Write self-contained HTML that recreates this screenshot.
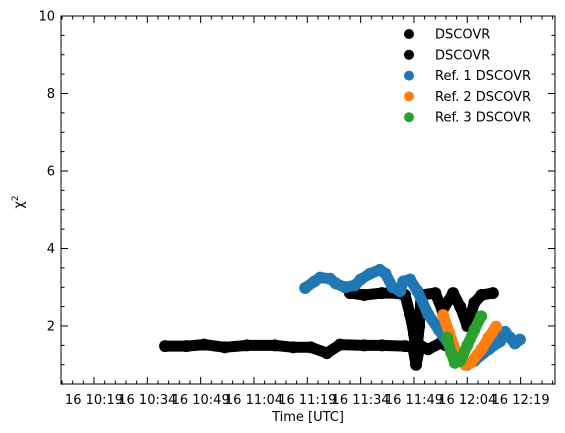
<!DOCTYPE html>
<html><head><meta charset="utf-8"><style>
body{margin:0;background:#fff}
svg{display:block;font-family:"DejaVu Sans","Liberation Sans",sans-serif}
</style></head><body>
<svg id="chart" width="565" height="433" viewBox="0 0 565 433"></svg>
<script>
// minutes since 10:00 UTC, chi-square
const black1T=[39,45,50,55.8,62,69.9,75,80,84.5,88.2,95,100,106.5,108.7,109.6,110.7,113,116.3,118];
const black1V=[1.48,1.48,1.52,1.45,1.5,1.5,1.45,1.45,1.3,1.52,1.5,1.5,1.48,1.45,1.0,1.5,1.4,1.55,1.5];
const black2T=[91,95,100,104,106.5,107.9,109,109.6,110.5,111,115,117,120,122,124,126,128,131.2];
const black2V=[2.85,2.8,2.85,2.85,2.8,2.3,1.8,1.2,2.0,2.8,2.85,2.4,2.85,2.5,2.0,2.6,2.8,2.85];
const blueT=[78.4,81,82.6,85.4,87,89.6,92.4,94,96.6,99.4,101,103,105.1,106,107.9,110,113,116,119,122,123.9,126,130,133.2,134.6,136,137.4,138.8];
const blueV=[2.98,3.15,3.25,3.22,3.1,3.0,3.05,3.2,3.35,3.45,3.35,3.0,2.9,3.15,3.2,2.9,2.3,1.9,1.5,1.2,1.0,1.1,1.4,1.6,1.85,1.7,1.55,1.65];
const orangeT=[117.2,119,121,123.4,125,128,130,132.1];
const orangeV=[2.28,1.8,1.3,1.0,1.05,1.4,1.7,1.98];
const greenT=[118.3,119.5,120.5,122,124,126,127.9];
const greenV=[1.7,1.3,1.05,1.1,1.5,1.9,2.25];
const xTickMinutes=[19,34,49,64,79,94,109,124,139];
const xTickLabels=["16 10:19","16 10:34","16 10:49","16 11:04","16 11:19","16 11:34","16 11:49","16 12:04","16 12:19"];
const yTicks=[2,4,6,8,10];
const legendLabels=["DSCOVR","DSCOVR","Ref. 1 DSCOVR","Ref. 2 DSCOVR","Ref. 3 DSCOVR"];
const legendColors=["#000000","#000000","#1f77b4","#ff7f0e","#2ca02c"];

const L=61,R=555,T=16,B=384;
const X=m=>94+(m-19)*3.555;
const Y=v=>T+(10-v)*38.75;
const svg=document.getElementById('chart');
const NS='http://www.w3.org/2000/svg';
function mk(tag,attrs,parent){const e=document.createElementNS(NS,tag);for(const k in attrs)e.setAttribute(k,attrs[k]);(parent||svg).appendChild(e);return e;}

function series(ts,vs,color,name){
  const g=mk('g',{});
  
  
  let d='';
  ts.forEach((t,i)=>{d+=(i?'L':'M')+X(t).toFixed(1)+' '+Y(vs[i]).toFixed(1);});
  const p=mk('path',{d:d,fill:'none',stroke:color,'stroke-width':11,'stroke-linejoin':'round','stroke-linecap':'round'},g);
  
  
  ts.forEach((t,i)=>{
    const c=mk('circle',{cx:X(t),cy:Y(vs[i]),r:6,fill:color},g);
    
    
  });
}
series(black1T,black1V,'#000','dscovr-series-1');
series(black2T,black2V,'#000','dscovr-series-2');
series(blueT,blueV,'#1f77b4','ref1-dscovr-series');
series(orangeT,orangeV,'#ff7f0e','ref2-dscovr-series');
series(greenT,greenV,'#2ca02c','ref3-dscovr-series');

const fr=mk('rect',{x:L,y:T,width:R-L,height:B-T,fill:'none',stroke:'#000','stroke-width':1});



for(let m=10;m<=148;m+=3){
  const x=X(m); if(x<L||x>R)continue;
  const major=xTickMinutes.includes(m);
  const len=major?7:3.5;
  mk('line',{x1:x,x2:x,y1:B,y2:B-len,stroke:'#000'});
  mk('line',{x1:x,x2:x,y1:T,y2:T+len,stroke:'#000'});
}
xTickLabels.forEach((lab,i)=>{
  const t=mk('text',{x:X(xTickMinutes[i]),y:404,'font-size':13,'text-anchor':'middle',fill:'#000'});
  t.textContent=lab;
  
  
});
for(let v=0.5;v<=10.001;v+=0.5){
  const y=Y(v); const major=Math.abs(v-Math.round(v))<1e-6 && Math.round(v)%2===0;
  const len=major?7:3.5;
  mk('line',{x1:L,x2:L+len,y1:y,y2:y,stroke:'#000'});
  mk('line',{x1:R,x2:R-len,y1:y,y2:y,stroke:'#000'});
}
yTicks.forEach(v=>{
  const t=mk('text',{x:55,y:Y(v)+4.5,'font-size':13,'text-anchor':'end',fill:'#000'});
  t.textContent=v;
  
  
});
const xt=mk('text',{x:308,y:421,'font-size':13,'text-anchor':'middle',fill:'#000'});
xt.textContent='Time [UTC]';


const yt=mk('text',{x:0,y:0,'font-size':13,'text-anchor':'middle',fill:'#000',transform:'translate(23,202) rotate(-90)'});
yt.innerHTML='χ<tspan dy="-5" font-size="9">2</tspan>';


legendLabels.forEach((lab,i)=>{
  const g=mk('g',{});
  
  
  const y=34+i*20.8;
  mk('circle',{cx:409,cy:y,r:5,fill:legendColors[i]},g);
  const t=mk('text',{x:435,y:y+4.5,'font-size':13,fill:'#000'},g);
  t.textContent=lab;
});
</script>
</body></html>
